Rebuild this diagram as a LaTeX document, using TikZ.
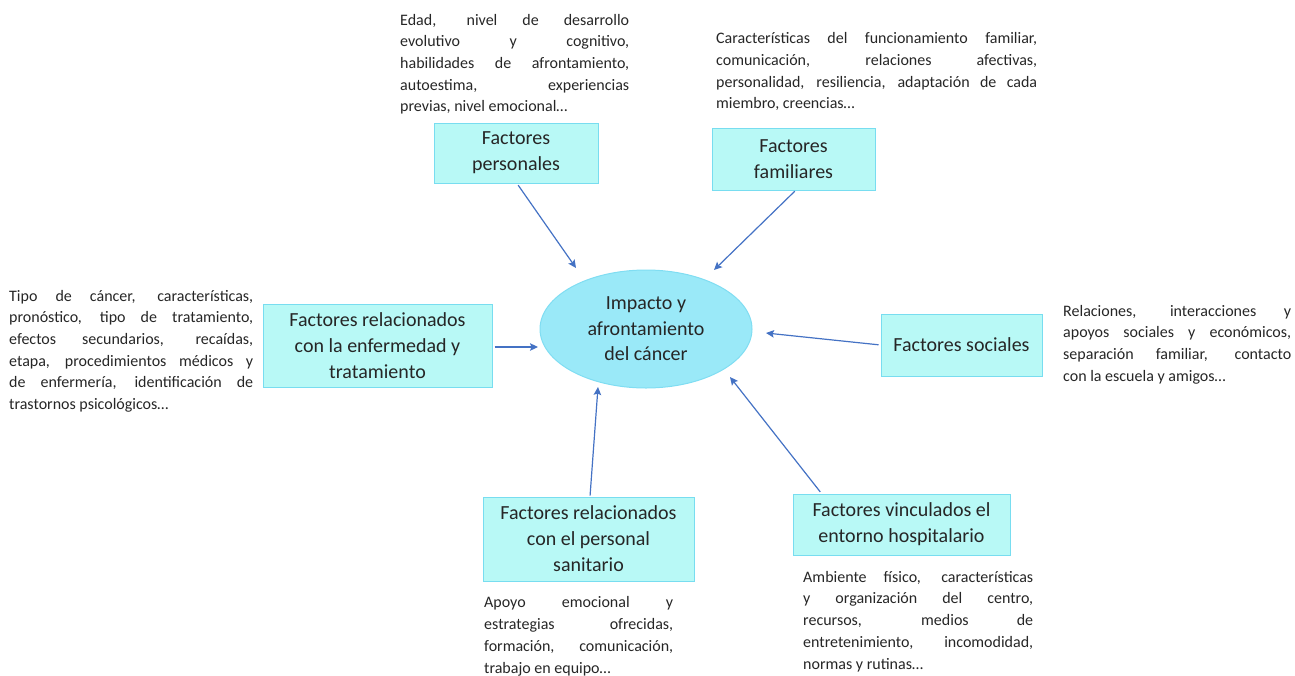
\documentclass[tikz,border=0pt]{standalone}
\usepackage{fontspec}
\setmainfont{Carlito}
\usetikzlibrary{shapes.geometric,arrows.meta}
\definecolor{boxfill}{HTML}{B8F9F6}
\definecolor{boxline}{HTML}{78DDF0}
\definecolor{ellfill}{HTML}{9AE9F8}
\definecolor{ellline}{HTML}{80DDF2}
\definecolor{arrowc}{HTML}{4472C4}
\definecolor{txt}{HTML}{262626}
\newlength\jw
\newcommand\J[1]{\makebox[\jw][s]{\strut#1}\\}
\begin{document}
\begin{tikzpicture}[x=1pt,y=-1pt,
  desc/.style={anchor=north west, inner sep=0pt, align=left, text=txt,
    font={\fontsize{16}{21.7}\selectfont\setlength{\jw}{#1}}},
  fbox/.style={draw=boxline, fill=boxfill, line width=1pt, align=center, text=txt,
    font={\fontsize{20}{26}\selectfont}, inner sep=0pt},
  ell/.style={ellipse, draw=ellline, fill=ellfill, line width=1pt, align=center, text=txt,
    font={\fontsize{20}{25.5}\selectfont}, inner sep=0pt, minimum width=212pt, minimum height=118pt},
  arr/.style={draw=arrowc, line width=1.2pt, -{Stealth[length=8pt,width=7.5pt,inset=1.5pt]}}
]
\useasboundingbox (0,0) rectangle (1295,675);

% centre
\node[ell] (c) at (646,329) {Impacto y\\afrontamiento\\del cáncer};

% factor boxes
\node[fbox, minimum width=164pt, minimum height=60pt] (pers) at (516,153) {Factores\\personales};
\node[fbox, minimum width=163pt, minimum height=62pt] (fam) at (793.5,159) {Factores\\familiares};
\node[fbox, minimum width=229pt, minimum height=83pt] (enf) at (377.5,345.5) {Factores relacionados\\con la enfermedad y\\tratamiento};
\node[fbox, minimum width=161pt, minimum height=62pt] (soc) at (961.5,345) {Factores sociales};
\node[fbox, minimum width=211pt, minimum height=84pt] (san) at (588.5,539) {Factores relacionados\\con el personal\\sanitario};
\node[fbox, minimum width=217pt, minimum height=61pt] (hosp) at (901.5,524.5) {Factores vinculados el\\entorno hospitalario};

% descriptions
\node[desc=229pt] (dpers) at (400,9.8) {\J{Edad, nivel de desarrollo}\J{evolutivo y cognitivo,}\J{habilidades de afrontamiento,}\J{autoestima, experiencias}\strut previas, nivel emocional…};
\node[desc=321pt] (dfam) at (716,28.3) {\J{Características del funcionamiento familiar,}\J{comunicación, relaciones afectivas,}\J{personalidad, resiliencia, adaptación de cada}\strut miembro, creencias…};
\node[desc=244pt] (denf) at (9,285.8) {\J{Tipo de cáncer, características,}\J{pronóstico, tipo de tratamiento,}\J{efectos secundarios, recaídas,}\J{etapa, procedimientos médicos y}\J{de enfermería, identificación de}\strut trastornos psicológicos…};
\node[desc=228pt] (dsoc) at (1063,300.8) {\J{Relaciones, interacciones y}\J{apoyos sociales y económicos,}\J{separación familiar, contacto}\strut con la escuela y amigos…};
\node[desc=189pt] (dsan) at (484,592.5) {\J{Apoyo emocional y}\J{estrategias ofrecidas,}\J{formación, comunicación,}\strut trabajo en equipo…};
\node[desc=230pt] (dhosp) at (803,566.8) {\J{Ambiente físico, características}\J{y organización del centro,}\J{recursos, medios de}\J{entretenimiento, incomodidad,}\strut normas y rutinas…};

% arrow tips
\coordinate (t1) at (576,268);
\coordinate (t2) at (714,270);
\coordinate (t3) at (538,347);
\coordinate (t4) at (766,333);
\coordinate (t5) at (598,387);
\coordinate (t6) at (730,377);

\draw[arr, shorten <=2pt] ([xshift=1pt]pers.south) -- (t1);
\draw[arr, shorten <=1pt] ([xshift=2pt]fam.south) -- (t2);
\draw[arr, shorten <=2pt] ([yshift=-1.5pt]enf.east) -- (t3);
\draw[arr, shorten <=2pt] (soc.west) -- (t4);
\draw[arr, shorten <=1pt] ([xshift=1.5pt]san.north) -- (t5);
\draw[arr, shorten <=2pt] ([xshift=29pt]hosp.north west) -- (t6);
\end{tikzpicture}
\end{document}
